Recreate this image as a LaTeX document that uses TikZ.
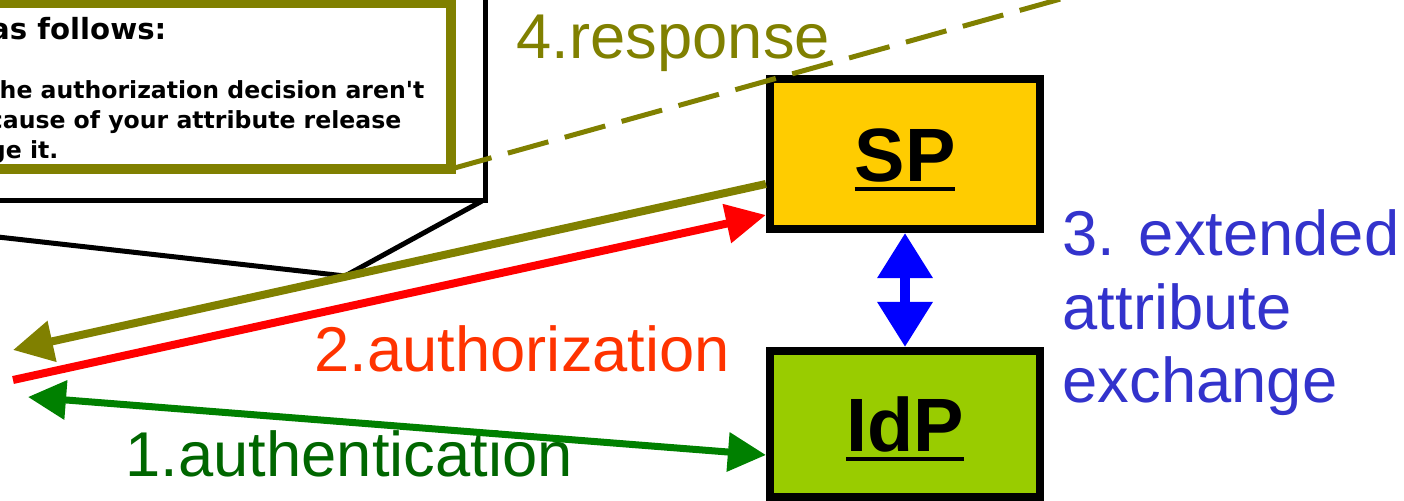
\documentclass[tikz,border=0pt]{standalone}
\usepackage{fontspec}
\setmainfont{Liberation Sans}
\newfontfamily\notefont{DejaVu Sans}
\usetikzlibrary{arrows.meta,calc}

\definecolor{respolive}{HTML}{808000}
\definecolor{authzred}{HTML}{FF3300}
\definecolor{authngreen}{HTML}{006600}
\definecolor{linkgreen}{HTML}{008000}
\definecolor{exchblue}{HTML}{3333CC}
\definecolor{spyellow}{HTML}{FFCC00}
\definecolor{idpgreen}{HTML}{99CC00}

\newcommand\boxtitle[1]{\setbox0\hbox{#1}\rlap{\smash{\rule[-2.9pt]{\wd0}{1.1pt}}}\box0}

\begin{document}
\begin{tikzpicture}[x=0.01cm,y=-0.01cm,
  party/.style={draw=black,line width=0.08cm,minimum width=2.7cm,minimum height=1.5cm,
    font=\fontsize{21.5}{24}\selectfont\bfseries,text height=15.4pt,text depth=0pt},
  msg/.style={font=\fontsize{18}{21}\selectfont,anchor=base west,inner sep=0pt},
  notetxt/.style={font=\notefont\bfseries\fontsize{6.7}{8}\selectfont,anchor=base east,inner sep=0pt}]
\useasboundingbox (0,0) rectangle (1404,501);
\clip (0,0) rectangle (1404,501);

\draw[line width=0.05cm,fill=white] (-20,-20) -- (485,-20) -- (485,201) -- (-20,201);
\draw[line width=0.05cm] (482,201) -- (345,276) -- (-20,235);

\node[draw=respolive,line width=0.1cm,outer sep=0pt,minimum width=6cm,minimum height=1.66cm,
  anchor=south east] (note) at (451,169) {};
\node[notetxt,font=\notefont\bfseries\fontsize{8.3}{10}\selectfont] (head) at (167,40) {as follows:};
\node[notetxt] (l1) at (425,99) {the authorization decision aren't};
\node[notetxt] (l2) at (402,129) {cause of your attribute release};
\node[notetxt] (l3) at (59,159) {ge it.};

\node[party,fill=spyellow] (sp) at (905,154) {\boxtitle{SP}};
\node[party,fill=idpgreen,minimum height=1.46cm] (idp) at (905,424) {\boxtitle{IdP}};

\coordinate (u4) at (13,350);
\coordinate (u2) at (13,380);
\coordinate (u1) at (28,397);
\coordinate (farend) at (1100,-12);

\node[msg,respolive] (resp) at (516,59) {4.response};
\node[msg,authzred] (authz) at (314,372) {2.authorization};
\node[msg,authngreen] (authn) at (125,477) {1.authentication};
\node[msg,exchblue,align=left] (exch) at (1062,403) {3. extended\\attribute\\exchange};

\draw[line width=0.07cm,linkgreen,{Triangle[length=0.38cm,width=0.38cm]}-{Triangle[length=0.38cm,width=0.38cm]}]
  (u1) -- ($(idp.west)+(0,31)$);
\draw[line width=0.08cm,red,-{Triangle[length=0.4cm,width=0.38cm]}] (u2) -- ($(sp.west)+(0,61)$);
\draw[line width=0.08cm,respolive,-{Triangle[length=0.4cm,width=0.4cm]}] ($(sp.west)+(0,30)$) -- (u4);
\draw[line width=0.1cm,blue,{Triangle[length=0.45cm,width=0.53cm]}-{Triangle[length=0.45cm,width=0.53cm]}]
  (sp) -- (idp);
\draw[line width=0.05cm,respolive,dash pattern=on 0.42cm off 0.17cm] (note.south east) -- (farend);
\end{tikzpicture}
\end{document}
